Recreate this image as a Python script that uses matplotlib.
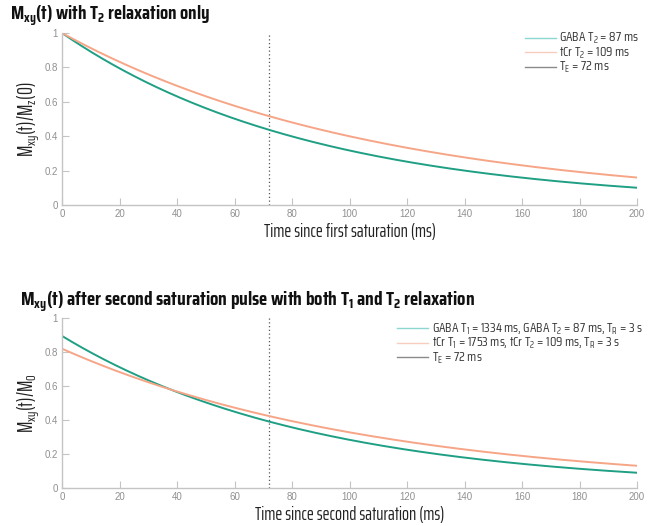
import numpy as np
import matplotlib
matplotlib.use("Agg")
import matplotlib.pyplot as plt
from matplotlib.lines import Line2D

# Relaxation parameters
metabolites = ["GABA", "tCr"]
T1_ms = [1334, 1753]
T2_ms = [87, 109]
TR_s = 3
TE_ms = 72
x_ticks = [0, 20, 40, 60, 80, 100, 120, 140, 160, 180, 200]
y_ticks = [0, 0.2, 0.4, 0.6, 0.8, 1]
y_ticklabels = ["0", "0.2", "0.4", "0.6", "0.8", "1"]

line_colors = ["#1f9f84", "#f6a587"]
legend_colors = ["#8ad8d0", "#f9cdbd", "#8a8a8a"]

label_font = "Saira ExtraCondensed"
text_font = "Saira Condensed"
tick_font = "Liberation Sans"

W, H = 655, 526
fig = plt.figure(figsize=(W / 100, H / 100), dpi=100)
ax1 = fig.add_axes([62/W, 1-205/H, 575/W, 172/H])
ax2 = fig.add_axes([62/W, 1-488/H, 575/W, 170/H])

t = np.linspace(0, 200, 401)

for ax in (ax1, ax2):
    ax.set_xlim(0, 200)
    ax.set_ylim(0, 1)
    ax.set_xticks(x_ticks)
    ax.set_yticks(y_ticks)
    ax.set_yticklabels(y_ticklabels)
    for s in ("top", "right"):
        ax.spines[s].set_visible(False)
    for s in ("left", "bottom"):
        ax.spines[s].set_color("#c4c4c4")
        ax.spines[s].set_linewidth(1.0)
    ax.tick_params(direction="in", length=5, width=0.8, colors="#c4c4c4",
                   labelcolor="#909090", labelsize=7, pad=3)
    for lab in ax.get_xticklabels() + ax.get_yticklabels():
        lab.set_family(tick_font)
    ax.axvline(TE_ms, color="#555555", lw=0.9, ls=(0, (1, 2)))

# Top panel: transverse decay with T2 only
for name, t2, c in zip(metabolites, T2_ms, line_colors):
    ax1.plot(t, np.exp(-t / t2), color=c, lw=1.4)

# Bottom panel: partial T1 recovery over TR, then T2 decay
for name, t1, t2, c in zip(metabolites, T1_ms, T2_ms, line_colors):
    m0 = 1 - np.exp(-TR_s * 1000 / t1)
    ax2.plot(t, m0 * np.exp(-t / t2), color=c, lw=1.4)

top_labels = [r"GABA T$\mathregular{_2}$ = 87 ms",
              r"tCr T$\mathregular{_2}$ = 109 ms",
              r"T$\mathregular{_E}$ = 72 ms"]
bot_labels = [r"GABA T$\mathregular{_1}$ = 1334 ms, GABA T$\mathregular{_2}$ = 87 ms, T$\mathregular{_R}$ = 3 s",
              r"tCr T$\mathregular{_1}$ = 1753 ms, tCr T$\mathregular{_2}$ = 109 ms, T$\mathregular{_R}$ = 3 s",
              r"T$\mathregular{_E}$ = 72 ms"]


def draw_key(labels, x0, x1, xt, y_first, step, size):
    """Key rows: a short line sample followed by its label."""
    for i, (lab, c) in enumerate(zip(labels, legend_colors)):
        y = y_first + i * step
        fig.add_artist(Line2D([x0 / W, x1 / W], [1 - y / H, 1 - y / H],
                              color=c, lw=1.0, transform=fig.transFigure))
        fig.text(xt / W, 1 - (y + 4.8) / H, lab, family=text_font, size=size,
                 color="#333333", ha="left", va="baseline")


draw_key(top_labels, 525, 556, 559, 37.5, 14.5, 9.5)
draw_key(bot_labels, 397, 428, 432, 328, 14.5, 9.5)

fig.text(10/W, 1-20/H, r"$\mathregular{M_{xy}}$(t) with T$\mathregular{_2}$ relaxation only",
         family=text_font, weight="bold", size=13.6, va="baseline", ha="left", color="#111111")
fig.text(20/W, 1-306.5/H,
         r"$\mathregular{M_{xy}}$(t) after second saturation pulse with both T$\mathregular{_1}$ and T$\mathregular{_2}$ relaxation",
         family=text_font, weight="bold", size=13.9, va="baseline", ha="left", color="#111111")

ax1.set_xlabel("Time since first saturation (ms)", family=label_font, size=13.3,
               color="#222222", labelpad=2.5)
ax2.set_xlabel("Time since second saturation (ms)", family=label_font, size=13.3,
               color="#222222", labelpad=2.5)
ax1.set_ylabel(r"$\mathregular{M_{xy}}$(t)/$\mathregular{M_z}$(0)", family=label_font,
               size=14.5, color="#222222", labelpad=2)
ax2.set_ylabel(r"$\mathregular{M_{xy}}$(t)/$\mathregular{M_0}$", family=label_font,
               size=14.5, color="#222222", labelpad=2)

fig.savefig("out.png", dpi=100)
